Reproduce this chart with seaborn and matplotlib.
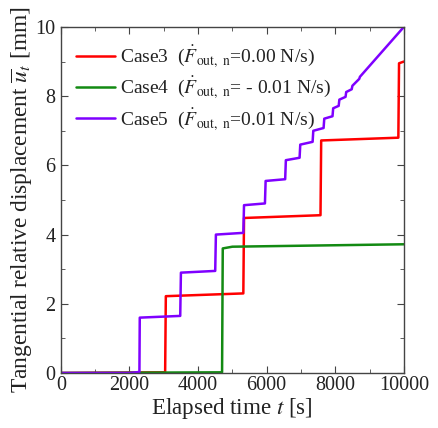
import numpy as np
import pandas as pd
import matplotlib
matplotlib.use("Agg")
import matplotlib.pyplot as plt
from matplotlib.ticker import MultipleLocator
import seaborn as sns

# ---- data ----
case3_t = [0, 3040, 3060, 5320, 5340, 7570, 7590, 9840, 9860, 10000]
case3_u = [0, 0.02, 2.22, 2.30, 4.48, 4.56, 6.72, 6.80, 8.95, 9.00]

case4_t = [0, 4700, 4720, 5000, 10000]
case4_u = [0, 0.02, 3.60, 3.65, 3.72]

case5_t = [0, 2000, 2290, 2300, 3480, 3500, 4500, 4520, 5320, 5340, 5950, 5970,
           6540, 6560, 6960, 6980, 7340, 7360, 7660, 7680, 7920, 7940, 8100, 8120,
           8300, 8320, 8480, 8500, 8700, 8720, 10000]
case5_u = [0, 0.0, 0.03, 1.60, 1.65, 2.90, 2.95, 4.00, 4.05, 4.85, 4.90, 5.55,
           5.60, 6.15, 6.22, 6.60, 6.68, 7.00, 7.08, 7.35, 7.42, 7.65, 7.72, 7.90,
           7.98, 8.12, 8.20, 8.30, 8.50, 8.56, 10.0]

labels = [r"Case3  ($\dot{F}_{\rm out,\ n}$=0.00 N/s)",
          r"Case4  ($\dot{F}_{\rm out,\ n}$= - 0.01 N/s)",
          r"Case5  ($\dot{F}_{\rm out,\ n}$=0.01 N/s)"]
colors = ["#ff0000", "#138a13", "#7f00ff"]

frames = []
for lab, t, u in zip(labels, [case3_t, case4_t, case5_t], [case3_u, case4_u, case5_u]):
    frames.append(pd.DataFrame({"t": t, "u": u, "case": lab}))
df = pd.concat(frames, ignore_index=True)

sns.set_style("ticks")
plt.rcParams["font.family"] = ["Liberation Serif", "DejaVu Serif"]
plt.rcParams["mathtext.fontset"] = "stix"

fig = plt.figure(figsize=(4.38, 4.28), dpi=100)
ax = fig.add_axes([0.139, 0.1285, 0.783, 0.8085])

sns.lineplot(data=df, x="t", y="u", hue="case", hue_order=labels,
             palette=dict(zip(labels, colors)), sort=False, estimator=None,
             units="case", linewidth=1.8, ax=ax)

ax.set_xlim(0, 10000)
ax.set_ylim(0, 10)
ax.xaxis.set_major_locator(MultipleLocator(2000))
ax.xaxis.set_minor_locator(MultipleLocator(1000))
ax.yaxis.set_major_locator(MultipleLocator(2))
ax.yaxis.set_minor_locator(MultipleLocator(1))
ax.tick_params(which="both", direction="in", top=True, right=True,
               colors="#444444", labelcolor="#222222")
ax.tick_params(which="major", length=5, labelsize=14.5)
ax.tick_params(axis="x", which="major", pad=2)
ax.tick_params(axis="y", which="major", pad=4)
ax.tick_params(which="minor", length=3)
for s in ax.spines.values():
    s.set_color("#444444")
    s.set_linewidth(1.0)

ax.set_xlabel(r"Elapsed time $t$ [s]", fontsize=16.6, color="#222222", labelpad=1)
ax.set_ylabel(r"Tangential relative displacement $\overline{u}_t$ [mm]",
              fontsize=16.8, color="#222222", labelpad=0.5)

leg = ax.legend(loc="upper left", frameon=False, fontsize=14,
                handlelength=2.0, handletextpad=0.25, labelspacing=0.27,
                borderpad=0, borderaxespad=0, bbox_to_anchor=(0.045, 0.953))
for txt in leg.get_texts():
    txt.set_color("#222222")

fig.savefig("out.png", dpi=100)
